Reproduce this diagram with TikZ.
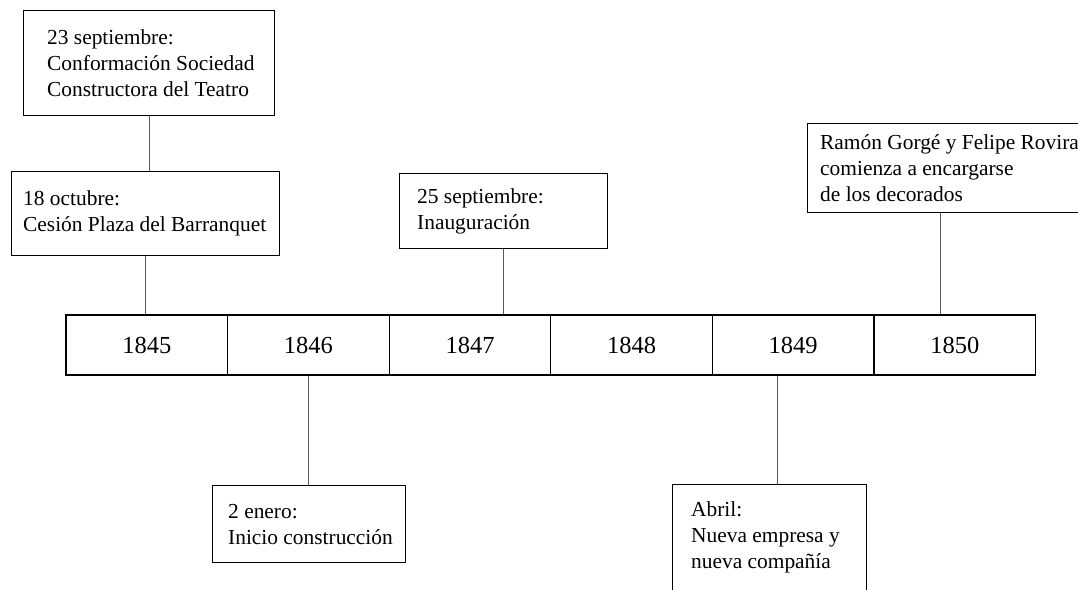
\documentclass[tikz,border=0pt]{standalone}
\usepackage{fontspec}
\setmainfont{Liberation Serif}
\usetikzlibrary{positioning}
\tikzset{
    yearbox/.style={draw, line width=1.1pt, minimum width=161.6pt, minimum height=60pt, inner sep=0pt, font=\fontsize{24.5}{28}\selectfont},
    eventbox/.style={draw, line width=1.1pt, anchor=north west, inner sep=0pt},
    eventtext/.style={anchor=west, align=left, inner sep=0pt, font=\fontsize{21.4}{26}\selectfont},
    link/.style={draw=black!65, line width=1pt}
}
\begin{document}
\begin{tikzpicture}[x=1pt,y=-1pt]
            \useasboundingbox (0,0) rectangle (1078,589);
            \clip (0,0) rectangle (1078,589);
            \foreach \year [count=\i from 0] in {1845,...,1850}
                \node[yearbox] (y\year) at (146.8+161.6*\i,345) {\year};
            \begin{scope}
                \node[eventbox, minimum width=251pt, minimum height=105pt] (sociedad) at (23,10) {};
                \node[eventtext, right=24pt of sociedad.west] (sociedadtxt) {23 septiembre:\\Conformación Sociedad\\Constructora del Teatro};
                \node[eventbox, minimum width=268pt, minimum height=84pt] (barranquet) at (11,171) {};
                \node[eventtext, right=12pt of barranquet.west] (barranquettxt) {18 octubre:\\Cesión Plaza del Barranquet};
                \node[eventbox, minimum width=208pt, minimum height=75pt] (inaug) at (399,173) {};
                \node[eventtext, right=18pt of inaug.west] (inaugtxt) {25 septiembre:\\Inauguración};
                \node[eventbox, minimum width=300pt, minimum height=89pt] (decorados) at (807,123) {};
                \node[eventtext, right=13pt of decorados.west] (decoradostxt) {Ramón Gorgé y Felipe Rovira\\comienza a encargarse\\de los decorados};
            \end{scope}
            \begin{scope}
                \node[eventbox, minimum width=193pt, minimum height=77pt] (enero) at (212,485) {};
                \node[eventtext, right=16pt of enero.west] (enerotxt) {2 enero:\\Inicio construcción};
                \node[eventbox, minimum width=194pt, minimum height=106pt] (abril) at (672,484) {};
                \node[eventtext, right=19pt of abril.west] (abriltxt) {Abril:\\Nueva empresa y\\nueva compañía};
            \end{scope}
            \draw[link] (sociedad.south) -- (sociedad.south |- barranquet.north);
            \draw[link] (barranquet.south) -- (barranquet.south |- y1845.north);
            \draw[link] (inaug.south) -- (inaug.south |- y1847.north);
            \draw[link] ([xshift=-17.5pt]decorados.south) -- ([xshift=-17.5pt]decorados.south |- y1850.north);
            \draw[link] (y1846.south) -- (y1846.south |- enero.north);
            \draw[link] ([xshift=8pt]abril.north) -- ([xshift=8pt]abril.north |- y1849.south);
\end{tikzpicture}
\end{document}
